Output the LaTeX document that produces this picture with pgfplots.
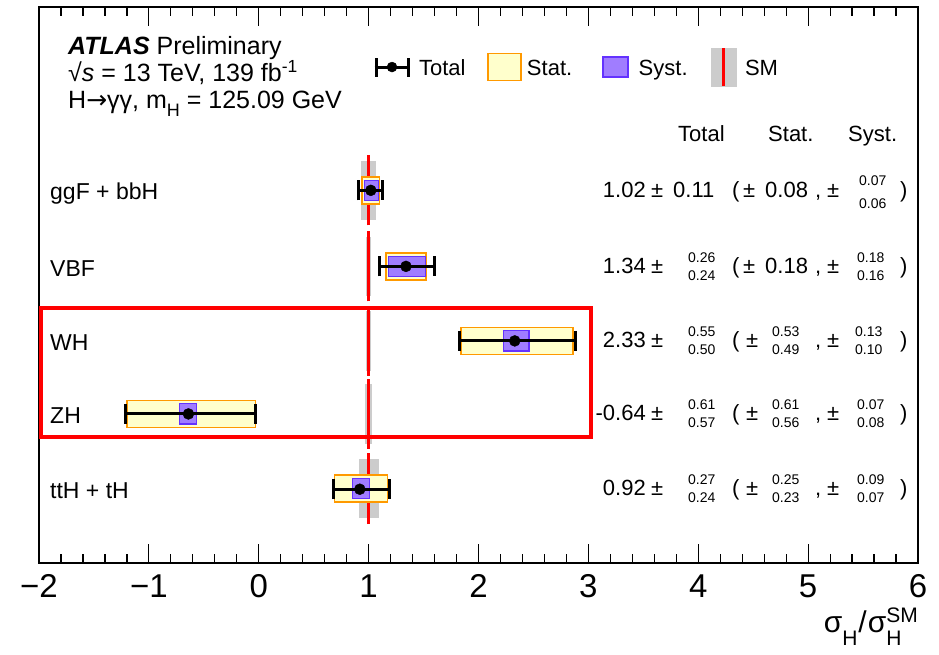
\documentclass[border=0pt]{standalone}
\usepackage{fontspec}
\setmainfont{Liberation Sans}
\newfontfamily\dejavu{DejaVu Sans}
\usepackage{pgfplots}
\pgfplotsset{compat=1.18}
\definecolor{statfill}{RGB}{255,255,204}
\definecolor{statedge}{RGB}{255,153,0}
\definecolor{systfill}{RGB}{160,125,255}
\definecolor{systedge}{RGB}{100,50,255}
\definecolor{smgray}{RGB}{204,204,204}
\newcommand{\fs}[1]{\fontsize{#1}{#1}\selectfont}
\newcommand{\stk}[4]{%
  \node[anchor=base west,font=\fs{14}] at (#1,#2+4.5) {#3};
  \node[anchor=base west,font=\fs{14}] at (#1,#2-13) {#4};}
\begin{document}
\begin{tikzpicture}[x=1pt,y=1pt]
\begin{axis}[
  at={(0,0)}, anchor=south west, scale only axis,
  width=879pt, height=556pt,
  xmin=-2, xmax=6, ymin=0, ymax=7.46,
  xtick={-2,...,6}, xticklabels={−2,−1,0,1,2,3,4,5,6},
  minor x tick num=4, ytick=\empty,
  tick align=inside, major tick length=19pt, minor tick length=9pt,
  every tick/.style={black, line width=1.2pt},
  axis line style={line width=1.5pt},
  xticklabel style={font=\fs{33}, inner sep=0pt, anchor=base, yshift=-34pt},
  clip=false,
  legend columns=4,
  legend style={at={(0.38,0.892)}, anchor=west, draw=none, fill=none,
    inner sep=0pt, outer sep=0pt, font=\fs{22},
    cells={anchor=base west}, nodes={inner sep=0pt},
    column sep=0pt,
    /tikz/column 1/.style={column sep=8pt},
    /tikz/column 2/.style={column sep=22pt},
    /tikz/column 3/.style={column sep=5pt},
    /tikz/column 4/.style={column sep=30pt},
    /tikz/column 5/.style={column sep=10pt},
    /tikz/column 6/.style={column sep=23pt},
    /tikz/column 7/.style={column sep=9pt}},
]
% legend images
\addlegendimage{legend image code/.code={
  \draw[line width=3pt] (0pt,8pt)--(35pt,8pt);
  \draw[line width=3pt] (1.5pt,-1.5pt)--(1.5pt,17.5pt);
  \draw[line width=3pt] (33.5pt,-1.5pt)--(33.5pt,17.5pt);
  \fill (17.5pt,8pt) circle (5pt);}}
\addlegendentry{Total}
\addlegendimage{legend image code/.code={
  \draw[fill=statfill, draw=statedge, line width=1.5pt] (0pt,-5.5pt) rectangle (33pt,21.5pt);}}
\addlegendentry{Stat.}
\addlegendimage{legend image code/.code={
  \draw[fill=systfill, draw=systedge, line width=1.5pt] (0pt,-2pt) rectangle (25pt,18pt);}}
\addlegendentry{Syst.}
\addlegendimage{legend image code/.code={
  \fill[smgray] (0pt,-11pt) rectangle (25pt,27pt);
  \draw[red, line width=2.5pt] (12.5pt,-11pt)--(12.5pt,27pt);}}
\addlegendentry{SM}

% SM uncertainty bands
\addplot[forget plot, fill=smgray, draw=none] coordinates {(0.935,4.6)(1.065,4.6)(1.065,5.4)(0.935,5.4)} --cycle;
\addplot[forget plot, fill=smgray, draw=none] coordinates {(0.98,3.58)(1.02,3.58)(1.02,4.38)(0.98,4.38)} --cycle;
\addplot[forget plot, fill=smgray, draw=none] coordinates {(0.98,2.58)(1.02,2.58)(1.02,3.38)(0.98,3.38)} --cycle;
\addplot[forget plot, fill=smgray, draw=none] coordinates {(0.965,1.6)(1.035,1.6)(1.035,2.4)(0.965,2.4)} --cycle;
\addplot[forget plot, fill=smgray, draw=none] coordinates {(0.91,0.6)(1.09,0.6)(1.09,1.4)(0.91,1.4)} --cycle;
% SM lines
\addplot[forget plot, red, line width=3pt] coordinates {(1,4.53)(1,5.47)};
\addplot[forget plot, red, line width=3pt] coordinates {(1,3.51)(1,4.45)};
\addplot[forget plot, red, line width=3pt] coordinates {(1,2.51)(1,3.45)};
\addplot[forget plot, red, line width=3pt] coordinates {(1,1.53)(1,2.47)};
\addplot[forget plot, red, line width=3pt] coordinates {(1,0.52)(1,1.47)};
% stat boxes
\addplot[forget plot, fill=statfill, draw=statedge, line width=1.5pt] coordinates {(0.94,4.82)(1.10,4.82)(1.10,5.18)(0.94,5.18)} --cycle;
\addplot[forget plot, fill=statfill, draw=statedge, line width=1.5pt] coordinates {(1.16,3.80)(1.52,3.80)(1.52,4.16)(1.16,4.16)} --cycle;
\addplot[forget plot, fill=statfill, draw=statedge, line width=1.5pt] coordinates {(1.84,2.80)(2.86,2.80)(2.86,3.16)(1.84,3.16)} --cycle;
\addplot[forget plot, fill=statfill, draw=statedge, line width=1.5pt] coordinates {(-1.20,1.82)(-0.03,1.82)(-0.03,2.18)(-1.20,2.18)} --cycle;
\addplot[forget plot, fill=statfill, draw=statedge, line width=1.5pt] coordinates {(0.69,0.82)(1.17,0.82)(1.17,1.18)(0.69,1.18)} --cycle;
% syst boxes
\addplot[forget plot, fill=systfill, draw=systedge, line width=1.2pt] coordinates {(0.96,4.865)(1.09,4.865)(1.09,5.135)(0.96,5.135)} --cycle;
\addplot[forget plot, fill=systfill, draw=systedge, line width=1.2pt] coordinates {(1.18,3.845)(1.52,3.845)(1.52,4.115)(1.18,4.115)} --cycle;
\addplot[forget plot, fill=systfill, draw=systedge, line width=1.2pt] coordinates {(2.23,2.845)(2.46,2.845)(2.46,3.115)(2.23,3.115)} --cycle;
\addplot[forget plot, fill=systfill, draw=systedge, line width=1.2pt] coordinates {(-0.72,1.865)(-0.57,1.865)(-0.57,2.135)(-0.72,2.135)} --cycle;
\addplot[forget plot, fill=systfill, draw=systedge, line width=1.2pt] coordinates {(0.85,0.865)(1.01,0.865)(1.01,1.135)(0.85,1.135)} --cycle;
% total
\addplot[forget plot, black, only marks, mark=*, mark size=5.5pt,
  error bars/.cd, x dir=both, x explicit, error mark=|,
  error bar style={line width=3pt},
  error mark options={line width=3pt, mark size=10pt, black}]
  coordinates {
  (1.02,5) += (0.11,0) -= (0.11,0)
  (1.34,3.98) += (0.26,0) -= (0.24,0)
  (2.33,2.98) += (0.55,0) -= (0.50,0)
  (-0.64,2) += (0.61,0) -= (0.57,0)
  (0.92,0.99) += (0.27,0) -= (0.24,0)
  };
\draw[red, line width=4pt] (axis cs:-1.98,1.697) rectangle (axis cs:3.024,3.415);
\end{axis}
\begin{scope}[every node/.style={inner sep=0pt}, font=\fs{22}]
% header text
\node[anchor=base west,font=\fs{25}] at (29,508) {\textbf{\textit{ATLAS}} Preliminary};
\node[anchor=base west,font=\fs{25}] at (29,481) {√\textit{s} = 13 TeV, 139 fb\textsuperscript{-1}};
\node[anchor=base west,font=\fs{25}] at (29,454) {H{\dejavu →}γγ, m\raisebox{-8pt}{\fs{18}H} = 125.09 GeV};
% column headers
\node[anchor=base west] at (639,421) {Total};
\node[anchor=base west] at (729,421) {Stat.};
\node[anchor=base west] at (809,421) {Syst.};
% row labels
\node[anchor=base west,font=\fs{23}] at (11,363) {ggF + bbH};
\node[anchor=base west,font=\fs{23}] at (11,287) {VBF};
\node[anchor=base west,font=\fs{23}] at (11,213) {WH};
\node[anchor=base west,font=\fs{23}] at (11,140) {ZH};
\node[anchor=base west,font=\fs{23}] at (11,65) {ttH + tH};
% ggF
\node[anchor=base east] at (607,365.5) {1.02};
\node[anchor=base west] at (612,365.5) {±};
\node[anchor=base west] at (634,365.5) {0.11};
\node[anchor=base west] at (693,365.5) {(};
\node[anchor=base west] at (704,365.5) {±};
\node[anchor=base west] at (726,365.5) {0.08};
\node[anchor=base west] at (776,365.5) {,};
\node[anchor=base west] at (788,365.5) {±};
\node[anchor=base west,font=\fs{14}] at (820,377) {0.07};
\node[anchor=base west,font=\fs{14}] at (820,354) {0.06};
\node[anchor=base west] at (861,365.5) {)};
% VBF
\node[anchor=base east] at (607,289.5) {1.34};
\node[anchor=base west] at (612,289.5) {±};
\stk{649}{296}{0.26}{0.24}
\node[anchor=base west] at (693,289.5) {(};
\node[anchor=base west] at (704,289.5) {±};
\node[anchor=base west] at (726,289.5) {0.18};
\node[anchor=base west] at (776,289.5) {,};
\node[anchor=base west] at (788,289.5) {±};
\stk{818}{296}{0.18}{0.16}
\node[anchor=base west] at (861,289.5) {)};
% WH
\node[anchor=base east] at (607,215.5) {2.33};
\node[anchor=base west] at (612,215.5) {±};
\stk{649}{222}{0.55}{0.50}
\node[anchor=base west] at (693,215.5) {(};
\node[anchor=base west] at (707,215.5) {±};
\stk{733}{222}{0.53}{0.49}
\node[anchor=base west] at (776,215.5) {,};
\node[anchor=base west] at (788,215.5) {±};
\stk{816}{222}{0.13}{0.10}
\node[anchor=base west] at (861,215.5) {)};
% ZH
\node[anchor=base east] at (607,142.5) {-0.64};
\node[anchor=base west] at (612,142.5) {±};
\stk{649}{149}{0.61}{0.57}
\node[anchor=base west] at (693,142.5) {(};
\node[anchor=base west] at (707,142.5) {±};
\stk{733}{149}{0.61}{0.56}
\node[anchor=base west] at (776,142.5) {,};
\node[anchor=base west] at (788,142.5) {±};
\stk{818}{149}{0.07}{0.08}
\node[anchor=base west] at (861,142.5) {)};
% ttH
\node[anchor=base east] at (607,67.5) {0.92};
\node[anchor=base west] at (612,67.5) {±};
\stk{649}{74}{0.27}{0.24}
\node[anchor=base west] at (693,67.5) {(};
\node[anchor=base west] at (707,67.5) {±};
\stk{733}{74}{0.25}{0.23}
\node[anchor=base west] at (776,67.5) {,};
\node[anchor=base west] at (788,67.5) {±};
\stk{818}{74}{0.09}{0.07}
\node[anchor=base west] at (861,67.5) {)};
% x label
\node[anchor=base east] at (879,-69) {\fs{30}σ\raisebox{-13pt}{\fs{21}H}\kern1pt/\kern1pt σ\makebox[0pt][l]{\raisebox{-13pt}{\fs{21}H}}\raisebox{10pt}{\fs{21}SM}};
\end{scope}
\pgfresetboundingbox
\path[use as bounding box] (-39,-91) rectangle (900,563);
\end{tikzpicture}
\end{document}
